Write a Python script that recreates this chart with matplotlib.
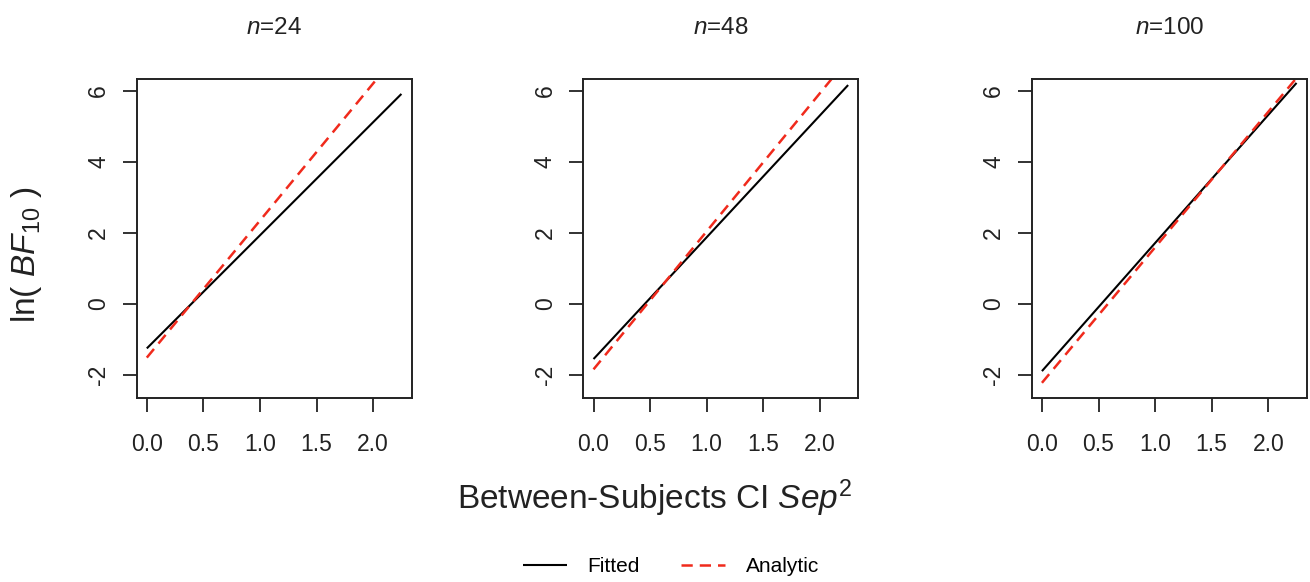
import numpy as np
import matplotlib
matplotlib.use("Agg")
import matplotlib.pyplot as plt

plt.rcParams['font.family'] = ['Liberation Sans', 'DejaVu Sans']
plt.rcParams['mathtext.fontset'] = 'custom'
plt.rcParams['mathtext.rm'] = 'Liberation Sans'
plt.rcParams['mathtext.it'] = 'Liberation Sans:italic'
plt.rcParams['mathtext.bf'] = 'Liberation Sans:bold'

# data: lines drawn between x = 0 and x = 2.25
sample_sizes = [24, 48, 100]
x_ends = [0.0, 2.25]
fitted_start = [-1.25, -1.55, -1.89]
fitted_end = [5.92, 6.17, 6.23]
analytic_start = [-1.51, -1.84, -2.22]
analytic_end = [7.18, 6.91, 6.37]

xticks = [0.0, 0.5, 1.0, 1.5, 2.0]
yticks = [-2, 0, 2, 4, 6]

red = '#f02a1c'
ink = '#222222'

fig = plt.figure(figsize=(13.1, 5.82), dpi=100)
lefts = [0.1043, 0.4453, 0.7876]

for i, n in enumerate(sample_sizes):
    ax = fig.add_axes([lefts[i], 0.316, 0.2099, 0.5476])
    ax.plot(x_ends, [fitted_start[i], fitted_end[i]], color='black', lw=1.5,
            label='Fitted', solid_capstyle='butt')
    ax.plot(x_ends, [analytic_start[i], analytic_end[i]], color=red, lw=1.8,
            dashes=(4.5, 2.8), label='Analytic')
    ax.set_xlim(-0.09, 2.34)
    ax.set_ylim(-2.65, 6.33)
    ax.set_xticks(xticks)
    ax.set_xticklabels([f'{v:.1f}' for v in xticks])
    ax.set_yticks(yticks)
    ax.set_yticklabels([str(v) for v in yticks], rotation=90, va='center')
    ax.tick_params(direction='out', length=10, width=1.3, labelsize=16.5,
                   color=ink, labelcolor=ink)
    ax.tick_params(axis='x', pad=15)
    ax.tick_params(axis='y', pad=9)
    for s in ax.spines.values():
        s.set_linewidth(1.4)
        s.set_color(ink)
    ax.set_title(r'$\mathit{n}$=' + str(n), fontsize=17.5, pad=33, color=ink)

fig.text(26 / 1310, 1 - 255 / 582, r'ln( $\mathit{BF}_{\mathrm{10}}$ )',
         rotation=90, ha='center', va='center', fontsize=24, color=ink)
fig.text(0.5, 1 - 498 / 582, r'Between-Subjects CI $\mathit{Sep}^{\mathrm{2}}$',
         ha='center', va='center', fontsize=24, color=ink)

handles, labels = ax.get_legend_handles_labels()
fig.legend(handles, labels, loc='center', bbox_to_anchor=(671 / 1310, 1 - 567 / 582),
           ncol=2, frameon=False, fontsize=15, handlelength=2.1,
           columnspacing=2.0, handletextpad=1.0)

fig.savefig('out.png', dpi=100)
